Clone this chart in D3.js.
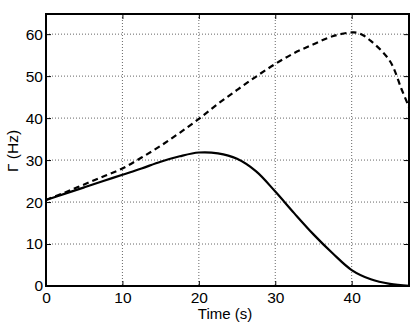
<!DOCTYPE html>
<html><head><meta charset="utf-8">
<script src="https://cdn.jsdelivr.net/npm/d3@7"></script>
<style>body{margin:0;background:#fff;} svg{display:block;}</style>
</head><body>
<svg id="chart" width="413" height="327"></svg>
<script>
const time = [0,2.5,5,7.5,10,12.5,15,17.5,20,22.5,25,27.5,30,32.5,35,37.5,40,42.5,45,47.5];
const solidRate = [20.5,22.0,23.5,25.0,26.5,28.0,29.6,30.9,31.8,31.6,30.3,27.3,22.5,17.3,12.3,7.8,3.8,1.6,0.5,0.05];
const dashedTime = [0,2.5,5,7.5,10,12.5,15,17.5,20,22.5,25,27.5,30,32.5,35,37.5,40,41,42.5,45,46.5,47.5];
const dashedRate = [20.5,22.3,24.2,26.1,28.0,30.6,33.4,36.5,39.8,43.4,46.7,49.9,52.9,55.5,57.6,59.5,60.4,60.2,58.4,53.6,47.0,42.6];
const xTicks = [0,10,20,30,40];
const yTicks = [0,10,20,30,40,50,60];
const xLabel = "Time (s)";
const yLabel = "Γ (Hz)";

const svg = d3.select("#chart");
const L = 46, T = 14, W = 363, H = 272;
const x = d3.scaleLinear().domain([0,47.5]).range([L, L+W]);
const y = d3.scaleLinear().domain([0,64.8]).range([T+H, T]);
const font = "'Liberation Sans', Arial, Helvetica, sans-serif";

// grid
const grid = svg.append("g").attr("stroke","#555").attr("stroke-width",0.9).attr("stroke-dasharray","1,2");
grid.selectAll(".gx").data(xTicks.filter(d=>d>0)).enter().append("line")
  .attr("x1",d=>x(d)).attr("x2",d=>x(d)).attr("y1",T).attr("y2",T+H);
grid.selectAll(".gy").data(yTicks.filter(d=>d>0)).enter().append("line")
  .attr("x1",L).attr("x2",L+W).attr("y1",d=>y(d)).attr("y2",d=>y(d));

// lines
const lineS = d3.line().x((d,i)=>x(time[i])).y(d=>y(d)).curve(d3.curveCatmullRom.alpha(0.5));
svg.append("path").attr("d", lineS(solidRate)).attr("fill","none").attr("stroke","#000").attr("stroke-width",2.2);
const lineD = d3.line().x((d,i)=>x(dashedTime[i])).y(d=>y(d)).curve(d3.curveCatmullRom.alpha(0.5));
svg.append("path").attr("d", lineD(dashedRate)).attr("fill","none").attr("stroke","#000").attr("stroke-width",2.2).attr("stroke-dasharray","6,4");

// axes
function styleAxis(g, showText){
  g.select(".domain").remove();
  g.selectAll("line").attr("stroke","#000").attr("stroke-width",1);
  g.selectAll("text").attr("font-family",font).attr("font-size","15.5px").attr("fill","#000");
  if(!showText) g.selectAll("text").remove();
}
svg.append("g").attr("transform",`translate(0,${T+H})`)
  .call(d3.axisBottom(x).tickValues(xTicks).tickSizeInner(-5).tickSizeOuter(0).tickPadding(6).tickFormat(d3.format("d")))
  .call(g=>styleAxis(g,true));
svg.append("g").attr("transform",`translate(0,${T})`)
  .call(d3.axisTop(x).tickValues(xTicks).tickSizeInner(-5).tickSizeOuter(0))
  .call(g=>styleAxis(g,false));
svg.append("g").attr("transform",`translate(${L},0)`)
  .call(d3.axisLeft(y).tickValues(yTicks).tickSizeInner(-5).tickSizeOuter(0).tickPadding(3).tickFormat(d3.format("d")))
  .call(g=>styleAxis(g,true));
svg.append("g").attr("transform",`translate(${L+W},0)`)
  .call(d3.axisRight(y).tickValues(yTicks).tickSizeInner(-5).tickSizeOuter(0))
  .call(g=>styleAxis(g,false));

// frame
svg.append("rect").attr("x",L).attr("y",T).attr("width",W).attr("height",H)
  .attr("fill","none").attr("stroke","#000").attr("stroke-width",2);

// labels
svg.append("text").attr("x",225).attr("y",318.5).attr("text-anchor","middle")
  .attr("font-family",font).attr("font-size","15px").text(xLabel);
svg.append("text").attr("transform","translate(18,151) rotate(-90)").attr("text-anchor","middle")
  .attr("font-family",font).attr("font-size","15.5px").text(yLabel);
</script>
</body></html>
